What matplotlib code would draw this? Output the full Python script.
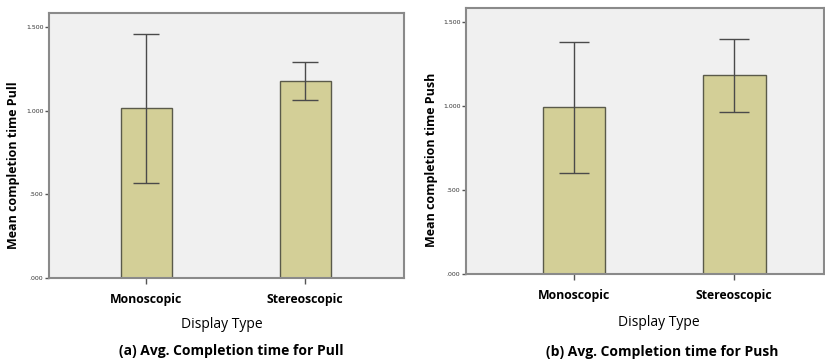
import matplotlib
matplotlib.use("Agg")
import matplotlib.pyplot as plt

categories = ["Monoscopic", "Stereoscopic"]
pull_mean = [1.016, 1.179]
pull_low = [0.570, 1.066]
pull_high = [1.460, 1.293]
push_mean = [0.994, 1.185]
push_low = [0.604, 0.966]
push_high = [1.382, 1.403]
ytick_vals = [0.0, 0.5, 1.0, 1.5]
ytick_labels = [".000", ".500", "1.000", "1.500"]

W, H = 825, 360
fig = plt.figure(figsize=(W / 100, H / 100), dpi=100)
fig.patch.set_facecolor("white")

FONT = "Open Sans"
BAR = "#d3cf97"
EDGE = "#5a5a4a"
FACE = "#f0f0f0"
SPINE = "#8a8a8a"


def px_axes(x0, x1, ytop, ybot):
    return fig.add_axes([x0 / W, 1 - ybot / H, (x1 - x0) / W, (ybot - ytop) / H])


def draw(ax, means, lows, highs, ylabel, xlim, ylim, bw, capsize):
    x = list(range(len(categories)))
    ax.set_facecolor(FACE)
    ax.bar(x, means, width=bw, color=BAR, edgecolor=EDGE, linewidth=1.0, zorder=2)
    yerr = [[m - l for m, l in zip(means, lows)], [h - m for m, h in zip(means, highs)]]
    ax.errorbar(x, means, yerr=yerr, fmt="none", ecolor="#4a4a4a", elinewidth=1.0,
                capsize=capsize, capthick=1.0, zorder=3)
    ax.set_xlim(*xlim)
    ax.set_ylim(*ylim)
    ax.set_xticks(x)
    ax.set_xticklabels(categories, fontsize=8.8, fontweight="bold", family=FONT)
    ax.set_yticks(ytick_vals)
    ax.set_yticklabels(ytick_labels, fontsize=4.5, color="#333333")
    ax.tick_params(axis="x", length=4, width=1, color="#555555", pad=7)
    ax.tick_params(axis="y", length=3, width=1, color="#555555", pad=1)
    for s in ax.spines.values():
        s.set_color(SPINE)
        s.set_linewidth(1.5)
    ax.set_ylabel(ylabel, fontsize=9, fontweight="bold", family=FONT)


ax1 = px_axes(49, 404, 13, 278)
draw(ax1, pull_mean, pull_low, pull_high, "Mean completion time Pull",
     (-0.61, 1.62), (0, 1.584), 0.32, 9.5)
ax1.yaxis.set_label_coords(-29 / 355, 0.426)

ax2 = px_axes(466, 824, 8, 274)
draw(ax2, push_mean, push_low, push_high, "Mean completion time Push",
     (-0.675, 1.56), (0, 1.586), 0.39, 11)
ax2.yaxis.set_label_coords(-28 / 358, 0.429)

fig.text(222 / W, 1 - 324 / H, "Display Type", ha="center", va="center",
         fontsize=10, family=FONT)
fig.text(659 / W, 1 - 322 / H, "Display Type", ha="center", va="center",
         fontsize=10, family=FONT)
fig.text(231 / W, 1 - 351 / H, "(a) Avg. Completion time for Pull", ha="center",
         va="center", fontsize=10, fontweight="bold", family=FONT)
fig.text(662 / W, 1 - 352 / H, "(b) Avg. Completion time for Push", ha="center",
         va="center", fontsize=10, fontweight="bold", family=FONT)

fig.savefig("out.png", dpi=100, facecolor="white")
